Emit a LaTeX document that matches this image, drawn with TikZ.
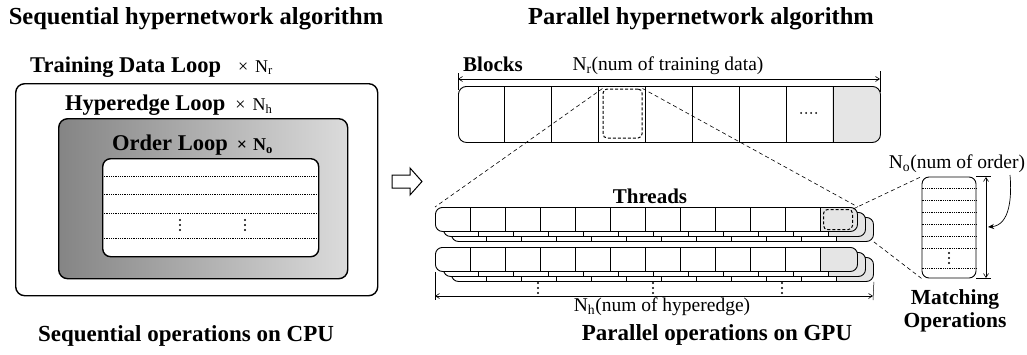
\documentclass[tikz,border=0pt]{standalone}
\usepackage{fontspec}
\setmainfont{Liberation Serif}
\usetikzlibrary{arrows.meta,calc}

% one layer of a thread row: white rounded strip, shaded last cell, 12 cells
\newcommand\threadlayer[3]{%
  \fill[white, rounded corners=7pt] (#1,#2) rectangle ++(422,24);
  \begin{scope}
    \clip[rounded corners=7pt] (#1,#2) rectangle ++(422,24);
    \fill[stipple] (#1+385,#2) rectangle ++(37,24);
  \end{scope}
  \node[rowbox, minimum width=422pt, minimum height=24pt, anchor=north west] (#3) at (#1,#2) {};
  \foreach \i in {1,...,11} \draw[divider] (#1+\i*35,#2) -- ++(0,24);
}

\begin{document}
\begin{tikzpicture}[x=1pt,y=-1pt,
  box/.style={draw=black, line width=1.4pt, rounded corners=9pt, inner sep=0},
  rowbox/.style={draw=black, line width=0.9pt, rounded corners=7pt, inner sep=0},
  divider/.style={draw=black, line width=0.8pt},
  stipple/.style={fill=black!10},
  rowline/.style={draw=black, line width=0.8pt, densely dotted},
  dashcell/.style={draw=black, line width=1pt, dash pattern=on 3pt off 2pt, rounded corners=4pt, inner sep=0},
  zoomline/.style={draw=black, line width=0.6pt, dash pattern=on 4pt off 3pt},
  extline/.style={draw=black, line width=0.5pt},
  dimline/.style={draw=black, line width=0.6pt, {Straight Barb[length=4pt,width=5pt]}-{Straight Barb[length=4pt,width=5pt]}},
  title/.style={font=\fontsize{24.5}{28}\selectfont\bfseries, inner sep=0},
  caption/.style={font=\fontsize{23}{27}\selectfont\bfseries, inner sep=0},
  looplabel/.style={font=\fontsize{22.5}{26}\selectfont\bfseries, anchor=west, inner sep=0},
  partlabel/.style={font=\fontsize{21}{24}\selectfont\bfseries, inner sep=0},
  dimlabel/.style={font=\fontsize{19.5}{22}\selectfont, inner sep=0},
  vdts/.pic={\foreach \d in {-5,0,5} \fill (0,\d) circle (1.1pt);},
  hdts/.pic={\foreach \d in {-7.5,-2.5,2.5,7.5} \fill (\d,0) circle (1.1pt);}
]
\useasboundingbox (0,0) rectangle (1027,354);

% ---------------- sequential algorithm ----------------
\node[title] (seqtitle) at (196,19) {Sequential hypernetwork algorithm};

\node[looplabel] (tdl) at (30,67) {Training Data Loop\hspace{17pt}{\mdseries\fontsize{18}{20}\selectfont ×\hspace{7pt}N\textsubscript{r}}};

\node[box, fill=white, minimum width=362pt, minimum height=212pt, anchor=north west] (outer) at (15,83) {};
\node[looplabel] (hel) at (65,105) {Hyperedge Loop\hspace{10pt}{\mdseries\fontsize{18}{20}\selectfont ×\hspace{7pt}N\textsubscript{h}}};

\node[box, left color=black!48, right color=black!14, minimum width=289pt, minimum height=160pt, anchor=north west] (middle) at (58,118) {};
\node[looplabel] (ol) at (112,145) {Order Loop\hspace{9pt}{\fontsize{18}{20}\selectfont ×\hspace{6pt}N\textsubscript{o}}};

\node[box, fill=white, rounded corners=8pt, minimum width=216pt, minimum height=98pt, anchor=north west] (inner) at (102,158) {};
\foreach \yy in {176,194,213,238}
  \draw[rowline] (inner.west |- 0,\yy) -- (inner.east |- 0,\yy);
\pic at (180,225) {vdts};
\pic at (245,225) {vdts};

\node[caption] (cpu) at (186,336) {Sequential operations on CPU};

% hollow arrow between the two halves
\draw[line width=1pt, fill=white] (392,175) -- (410,175) -- (410,168) -- (422,181.5)
  -- (410,195) -- (410,188) -- (392,188) -- cycle;

% ---------------- parallel algorithm ----------------
\node[title] (partitle) at (701,19) {Parallel hypernetwork algorithm};

% blocks row
\node[partlabel, anchor=west] (blk) at (463,64) {Blocks};
\node[dimlabel] (nr) at (668,66) {N\textsubscript{r}(num of training data)};

\fill[white, rounded corners=8pt] (458,86) rectangle (880,142);
\begin{scope}
  \clip[rounded corners=8pt] (458,86) rectangle (880,142);
  \fill[stipple] (832,86) rectangle (880,142);
\end{scope}
\node[rowbox, rounded corners=8pt, minimum width=422pt, minimum height=56pt, anchor=north west] (blocks) at (458,86) {};
\foreach \i in {1,...,8} \draw[divider] (458+\i*46.89,86) -- ++(0,56);
\pic at (808.6,113) {hdts};
\node[dashcell, minimum width=39pt, minimum height=49pt] (blkcell) at (622.5,113.5) {};

\coordinate (nrL) at (458,79);
\coordinate (nrR) at (880,79);
\draw[extline] (458,73) -- (458,90);
\draw[extline] (880,71) -- (880,92);
\draw[dimline] (nrL) -- (nrR);

% thread rows, each a stack of three layers drawn back to front
\node[partlabel] (thr) at (650,196) {Threads};

\threadlayer{451}{217}{thrA2}
\threadlayer{443}{212}{thrA1}
\threadlayer{435}{207}{thrA0}
\node[dashcell, minimum width=29pt, minimum height=20pt] (thrcell) at (838,219.5) {};

\threadlayer{451}{257}{thrB2}
\threadlayer{443}{252}{thrB1}
\threadlayer{435}{247}{thrB0}

\pic at (538,288) {vdts};
\pic at (653,288) {vdts};
\pic at (782,288) {vdts};

\coordinate (nhL) at (435,296);
\coordinate (nhR) at (873,296);
\draw[extline] (thrB0.south west) -- (435,300);
\draw[extline] (thrB2.south east) -- (873,300);
\draw[dimline] (nhL) -- (nhR);
\node[dimlabel] (nh) at (662,307) {N\textsubscript{h}(num of hyperedge)};

% zoom lines: block -> thread row
\draw[zoomline] (blkcell.north west) -- (thrA0.north west);
\draw[zoomline] (blkcell.north east) -- (thrA0.north east);

% matching operations inside one thread
\node[rowbox, fill=white, minimum width=54pt, minimum height=101pt] (mbox) at (949,227.5) {};
\foreach \yy in {188,200,212,224,236,248,268}
  \draw[rowline, line width=0.6pt] (mbox.west |- 0,\yy) -- (mbox.east |- 0,\yy);
\pic at (949,258) {vdts};

\draw[zoomline] (thrcell.north east) -- (mbox.north west);
\draw[zoomline] (thrA2.south east) -- (mbox.south west);

\coordinate (noT) at (986,177);
\coordinate (noB) at (986,278);
\draw[extline] (mbox.north east) -- ++(15,0);
\draw[extline] (mbox.south east) -- ++(15,0);
\draw[dimline] (noT) -- (noB);
\node[dimlabel] (no) at (957,164) {N\textsubscript{o}(num of order)};
\coordinate (cvS) at (1010,175);
\coordinate (cvE) at (988,227);
\draw[line width=0.7pt, -{Stealth[length=6pt,width=5pt]}] (cvS) to[out=-85, in=5] (cvE);

\node[partlabel, align=center, font=\fontsize{21.5}{23}\selectfont\bfseries] (match) at (955,311) {Matching\\Operations};

\node[caption] (gpu) at (717,335) {Parallel operations on GPU};
\end{tikzpicture}
\end{document}
